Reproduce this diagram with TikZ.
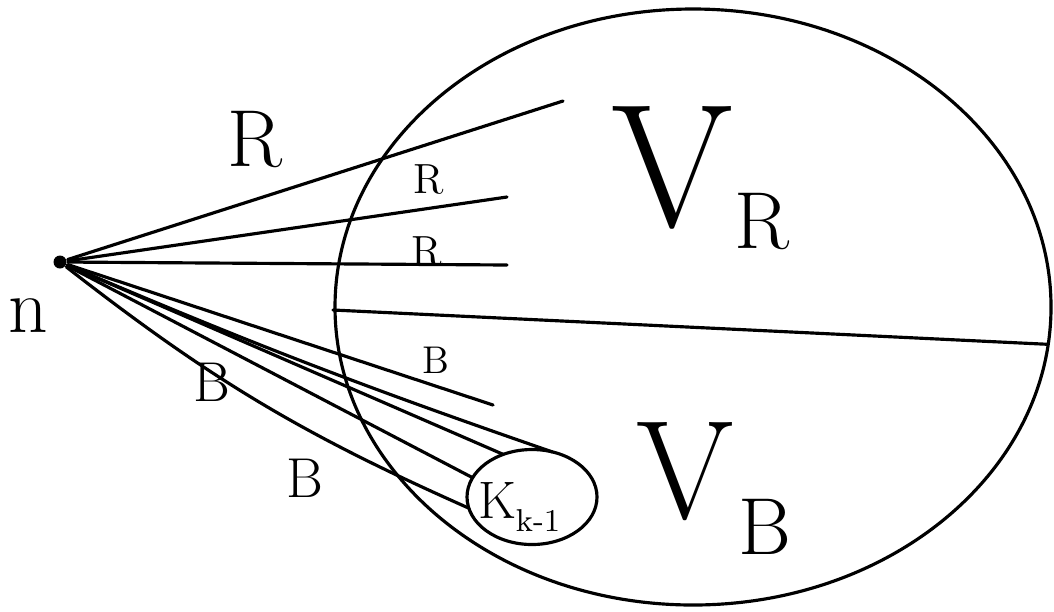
\documentclass[tikz,border=0pt]{standalone}
\usetikzlibrary{shapes.geometric}
\newcommand{\fsz}[1]{\fontsize{#1}{#1}\selectfont}
\tikzset{
  sketch/.style={line width=0.9pt, line cap=round},
  tag/.style={inner sep=0pt}
}
\begin{document}
\begin{tikzpicture}[x=0.1mm, y=-0.1mm, sketch]
    \useasboundingbox (0,0) rectangle (1054,611);

    % big region, split into V_R and V_B
    \node[draw, ellipse, minimum width=7.16cm, minimum height=5.96cm, inner sep=0pt, outer sep=0pt] (region) at (693,307) {};
    \coordinate (split) at (333,310);
    \draw (split) -- (region.-6);

    % small set K_{k-1}
    \node[draw, ellipse, minimum width=1.3cm, minimum height=0.95cm, inner sep=0pt, outer sep=0pt] (kset) at (532,497) {};
    \node[tag, font=\fsz{15}] (klabel) at (497,500) {K};
    \node[tag, font=\fsz{9}] (ksub) at (538,521) {k-1};

    % vertex n
    \node[circle, fill, inner sep=0pt, minimum size=1.3mm] (n) at (60,262) {};
    \node[tag, font=\fsz{22}] (nlabel) at (28,316) {n};

    % red edges
    \coordinate (r1) at (563,101);
    \coordinate (r2) at (507,197);
    \coordinate (r3) at (507,265);
    \draw (n) -- (r1);
    \draw (n) -- (r2);
    \draw (n) -- (r3);

    % blue edges
    \coordinate (b1) at (493,405);
    \draw (n) -- (b1);
    \draw (n) to[bend right=2] (kset.66);
    \draw (n) -- (kset.124);
    \draw (n) -- (kset.162);
    \draw (n) to[bend right=7] (kset.190);

    % edge labels
    \node[tag, font=\fsz{23}] (lr1) at (255,140) {R};
    \node[tag, font=\fsz{12}] (lr2) at (429,180) {R};
    \node[tag, font=\fsz{12}] (lr3) at (427,252) {R};
    \node[tag, font=\fsz{11}] (lb1) at (436,360) {B};
    \node[tag, font=\fsz{16}] (lb2) at (212,382) {B};
    \node[tag, font=\fsz{16}] (lb3) at (305,478) {B};

    % region labels
    \node[tag, font=\fsz{50}] (vr) at (672,168) {V};
    \node[tag, font=\fsz{23}] (vrsub) at (762,222) {R};
    \node[tag, font=\fsz{40}] (vb) at (685,472) {V};
    \node[tag, font=\fsz{23}] (vbsub) at (765,527) {B};
\end{tikzpicture}
\end{document}
